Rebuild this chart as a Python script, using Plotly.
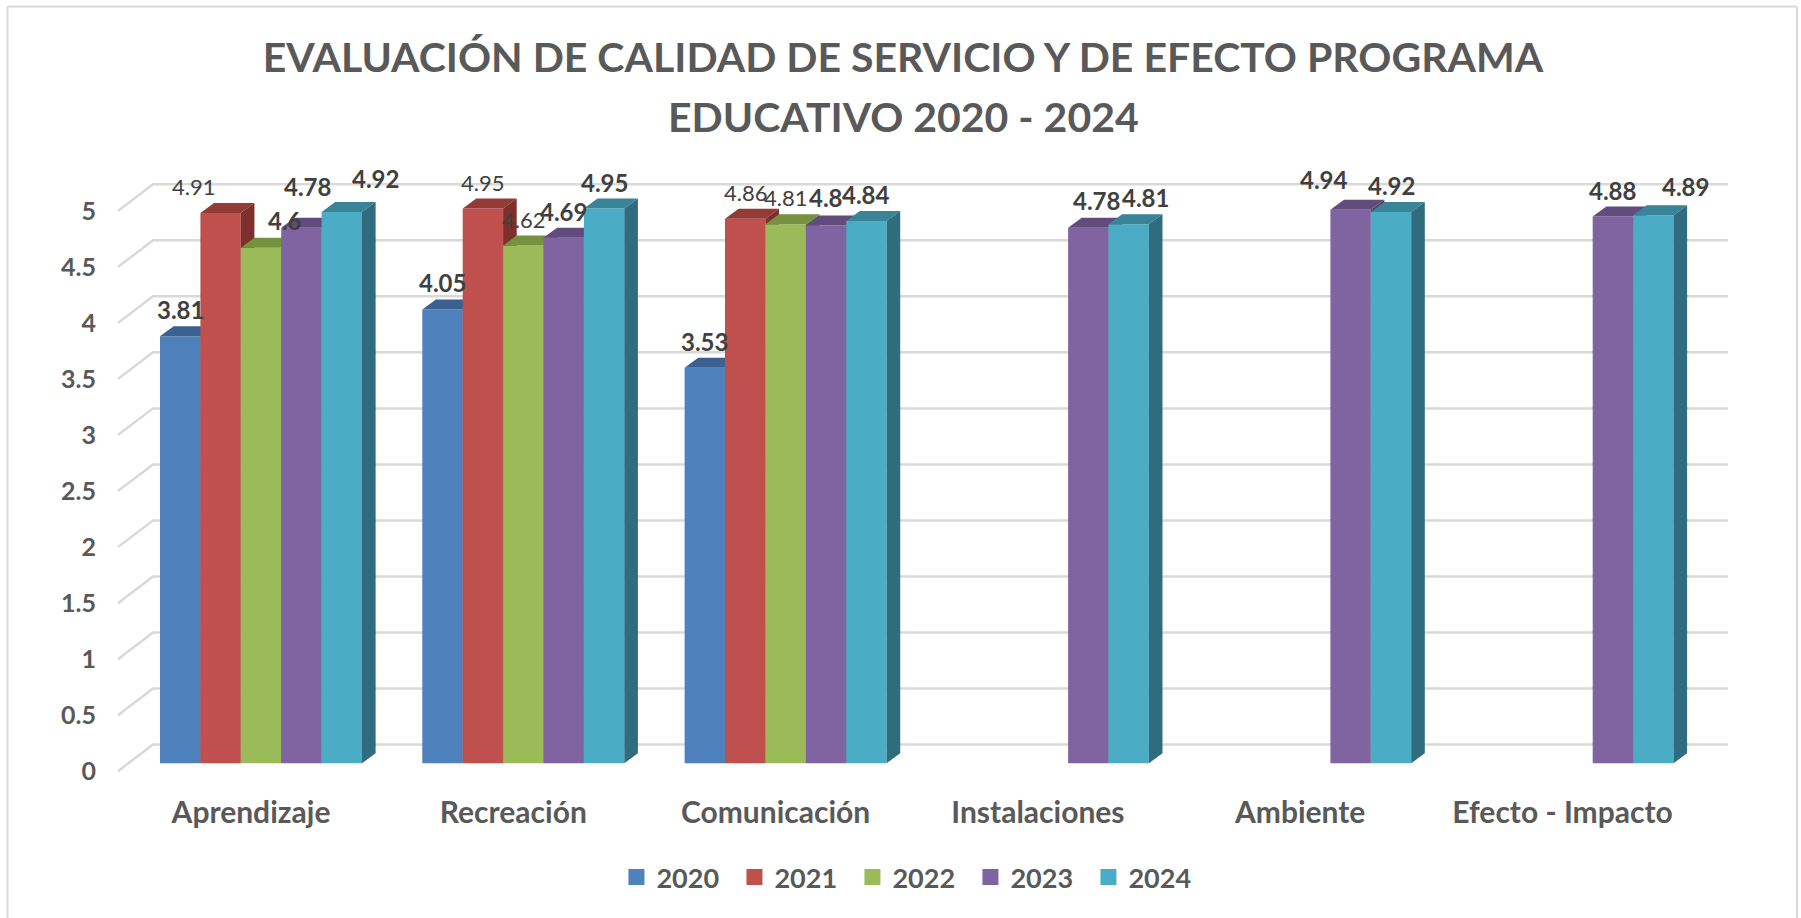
import plotly.graph_objects as go

# ---------- data ----------
categories = ["Aprendizaje", "Recreación", "Comunicación", "Instalaciones", "Ambiente", "Efecto - Impacto"]
years = ["2020", "2021", "2022", "2023", "2024"]
v2020 = [3.81, 4.05, 3.53, None, None, None]
v2021 = [4.91, 4.95, 4.86, None, None, None]
v2022 = [4.60, 4.62, 4.81, None, None, None]
v2023 = [4.78, 4.69, 4.80, 4.78, 4.94, 4.88]
v2024 = [4.92, 4.95, 4.84, 4.81, 4.92, 4.89]
series = [v2020, v2021, v2022, v2023, v2024]
y_ticks = [0, 0.5, 1, 1.5, 2, 2.5, 3, 3.5, 4, 4.5, 5]
y_tick_labels = ["0", "0.5", "1", "1.5", "2", "2.5", "3", "3.5", "4", "4.5", "5"]

# ---------- style ----------
front = ["#4F81BD", "#C0504D", "#9BBB59", "#8064A2", "#4BACC6"]
top = ["#3B6191", "#943B38", "#76913F", "#614C7D", "#3A8498"]
side = ["#315378", "#7D2F2C", "#637A3A", "#533F6B", "#2F6C7E"]
label_bold = [
    [True, True, True, None, None, None],
    [False, False, False, None, None, None],
    [True, False, False, None, None, None],
    [True, True, True, True, True, True],
    [True, True, True, True, True, True],
]
# label nudges in pixels (x, up) from the top centre of each bar
label_dx = [
    [0, 0, 0, 0, 0, 0],
    [-27.5, 0, 0, 0, 0, 0],
    [24, 0, 0, 0, 0, 0],
    [6, 0, 0, 8, -27, 0],
    [33.5, 0, 0, 17, 0, 32],
]
label_dy = [
    [27, 27, 26.6, 0, 0, 0],
    [27, 26, 26, 0, 0, 0],
    [27, 26, 27, 0, 0, 0],
    [41.6, 26.5, 28, 27.6, 30, 26],
    [33, 26.5, 26.5, 27, 26, 29],
]
FONT = "Lato"
TXT = "#595959"
GRID = "#D9D9D9"

W, H = 1801, 918
L, R = 110, 1735          # plot area, px
Y0_PX, PX_PER_UNIT = 763, 112
CAT0_PX, CAT_PX = 261, 262.3
BAR_PX = 40.4
YMIN, YMAX = -0.15, 5.5
T_MARGIN = Y0_PX - YMAX * PX_PER_UNIT
B_MARGIN = H - (Y0_PX - YMIN * PX_PER_UNIT)
PLOT_H = H - T_MARGIN - B_MARGIN
xr = [(L - CAT0_PX) / CAT_PX, (R - CAT0_PX) / CAT_PX]
bar_w = BAR_PX / CAT_PX
dx_depth = 13.6 / CAT_PX
dy_depth = 10 / PX_PER_UNIT
wall_front = -8 / PX_PER_UNIT      # front edge of the floor vs bar baseline
wall_back = 18.7 / PX_PER_UNIT
wall_x0 = (118 - CAT0_PX) / CAT_PX
wall_x1 = (153 - CAT0_PX) / CAT_PX
wall_x2 = (1728 - CAT0_PX) / CAT_PX

fig = go.Figure()

# back wall + left wall gridlines
gx, gy = [], []
for t in y_ticks:
    gx += [wall_x0, wall_x1, wall_x2, None]
    gy += [t + wall_front, t + wall_back, t + wall_back, None]
fig.add_trace(go.Scatter(x=gx, y=gy, mode="lines", line=dict(color=GRID, width=2.5),
                         hoverinfo="skip", showlegend=False))

# legend entries
for j, yr in enumerate(years):
    fig.add_trace(go.Scatter(x=[None], y=[None], mode="markers", name=f"<b>{yr}</b>",
                             marker=dict(symbol="square", size=17, color=front[j])))

# each series on its own overlaying axes so later series hide earlier ones
for j, (yr, vals) in enumerate(zip(years, series)):
    ax = str(j + 2)
    offset = -2.5 * bar_w + j * bar_w
    xs = [i for i, v in enumerate(vals) if v is not None]
    ys = [v for v in vals if v is not None]
    fig.add_trace(go.Bar(x=xs, y=ys, width=bar_w, offset=offset, name=yr, showlegend=False,
                         marker=dict(color=front[j], line=dict(width=0)),
                         xaxis="x" + ax, yaxis="y" + ax,
                         hovertemplate="%{y}<extra>" + yr + "</extra>"))
    tx, ty, sx, sy = [], [], [], []
    for x, v in zip(xs, ys):
        a, b = x + offset, x + offset + bar_w
        tx += [a, b, b + dx_depth, a + dx_depth, a, None]
        ty += [v, v, v + dy_depth, v + dy_depth, v, None]
        sx += [b, b + dx_depth, b + dx_depth, b, b, None]
        sy += [0, dy_depth, v + dy_depth, v, 0, None]
    for px, py, c in ((tx, ty, top[j]), (sx, sy, side[j])):
        fig.add_trace(go.Scatter(x=px, y=py, mode="lines", fill="toself", fillcolor=c,
                                 line=dict(width=0, color=c), hoverinfo="skip", showlegend=False,
                                 xaxis="x" + ax, yaxis="y" + ax))

# data labels
ann = []
for j, vals in enumerate(series):
    for i, v in enumerate(vals):
        if v is None:
            continue
        bold = label_bold[j][i]
        txt = f"{v:g}"
        ann.append(dict(x=i - 2 * bar_w + j * bar_w, y=v, xref="x", yref="y",
                        xshift=label_dx[j][i], yshift=label_dy[j][i], showarrow=False,
                        text=f"<b>{txt}</b>" if bold else txt,
                        font=dict(family=FONT, size=24 if bold else 22, color="#404040")))
# second title line
ann.append(dict(x=(903 - L) / (R - L), y=(H - B_MARGIN - 117) / PLOT_H, xref="paper", yref="paper",
                showarrow=False, text="<b>EDUCATIVO 2020 - 2024</b>", xanchor="center", yanchor="middle",
                font=dict(family=FONT, size=41, color=TXT)))

layout = dict(
    width=W, height=H, autosize=False,
    paper_bgcolor="white", plot_bgcolor="white",
    margin=dict(l=L, r=W - R, t=T_MARGIN, b=B_MARGIN, pad=0),
    barmode="overlay",
    title=dict(text="<b>EVALUACIÓN DE CALIDAD DE SERVICIO Y DE EFECTO PROGRAMA</b>",
               x=903 / W, xanchor="center", y=1 - 58 / H, yanchor="middle",
               font=dict(family=FONT, size=41, color=TXT)),
    xaxis=dict(range=xr, tickmode="array", tickvals=[i - 10 / CAT_PX for i in range(6)],
               ticktext=[f"<b>{c}</b>" for c in categories], showgrid=False, zeroline=False,
               showline=False, ticks="", ticklabelstandoff=12,
               tickfont=dict(family=FONT, size=30, color=TXT)),
    yaxis=dict(range=[YMIN, YMAX], tickmode="array", tickvals=[t + wall_front for t in y_ticks],
               ticktext=[f"<b>{s}</b>" for s in y_tick_labels], showgrid=False, zeroline=False,
               showline=False, ticks="", ticklabelstandoff=13,
               tickfont=dict(family=FONT, size=25, color=TXT)),
    legend=dict(orientation="h", x=0.4932, xanchor="center", y=-0.154, yanchor="middle",
                font=dict(family=FONT, size=27, color=TXT), entrywidth=73, entrywidthmode="pixels",
                itemclick=False, itemdoubleclick=False),
    annotations=ann,
    shapes=[
        dict(type="line", xref="paper", yref="paper",
             x0=(a - L) / (R - L), x1=(c - L) / (R - L),
             y0=(H - B_MARGIN - b) / PLOT_H,
             y1=(H - B_MARGIN - d) / PLOT_H,
             line=dict(color=GRID, width=2), layer="below")
        for a, b, c, d in [(7.5, 6.5, 7.5, 918), (7.5, 6.5, 1797, 6.5), (1797, 6.5, 1797, 918)]
    ],
)
for j in range(5):
    ax = str(j + 2)
    layout["xaxis" + ax] = dict(range=xr, overlaying="x", visible=False)
    layout["yaxis" + ax] = dict(range=[YMIN, YMAX], overlaying="y", visible=False)
fig.update_layout(**layout)

fig.write_html("out.html", config={"displayModeBar": False},
               post_script="document.body.style.margin='0';document.body.style.overflow='hidden';")
